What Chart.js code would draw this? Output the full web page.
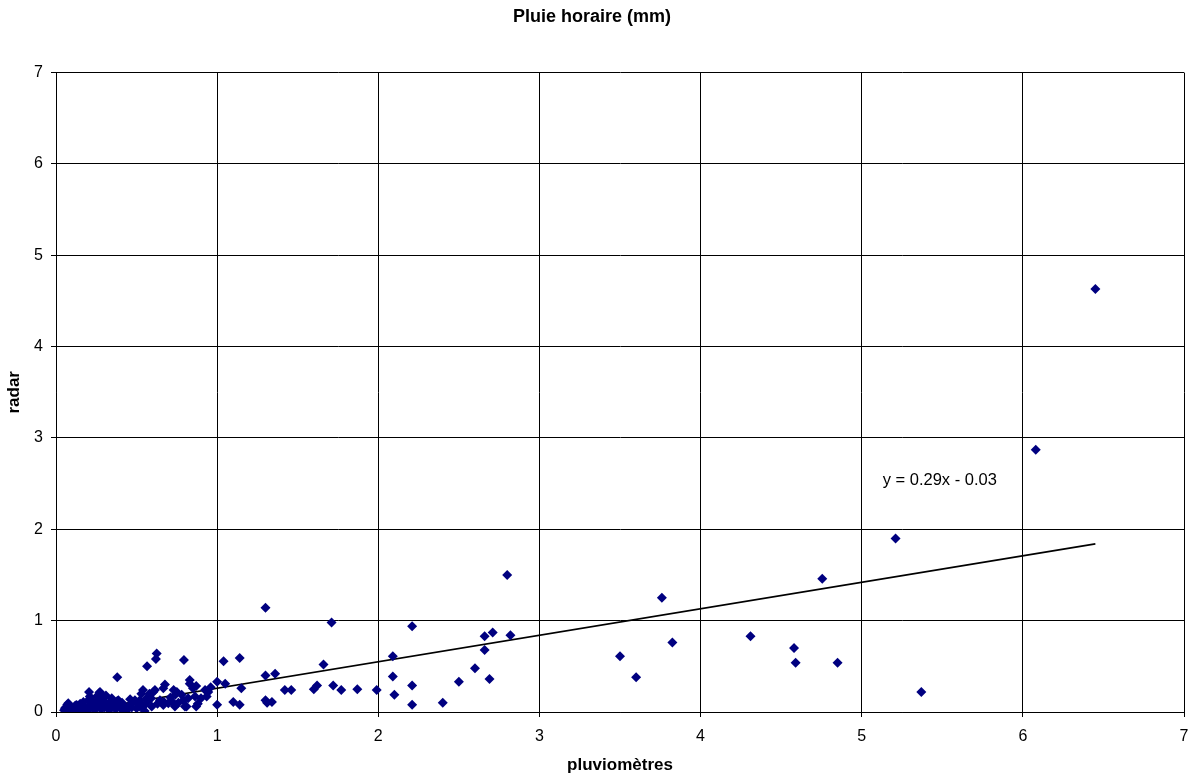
<!DOCTYPE html>
<html lang="fr">
<head>
<meta charset="utf-8">
<title>Pluie horaire (mm)</title>
<script src="https://cdn.jsdelivr.net/npm/chart.js@4.4.1/dist/chart.umd.min.js"></script>
<style>
  html, body { margin: 0; padding: 0; background: #fff; }
  #wrap { width: 1193px; height: 778px; }
</style>
</head>
<body>
<div id="wrap"><canvas id="pluieChart" width="1193" height="778"></canvas></div>
<script>
// cumul horaire : pluviomètres (x) contre radar (y), en mm
const mesures = [
  [6.45, 4.63], [6.08, 2.87], [5.21, 1.90], [5.37, 0.22],
  [4.755, 1.46], [4.85, 0.54], [4.59, 0.54], [4.58, 0.70], [4.31, 0.83],
  [3.825, 0.76], [3.76, 1.25], [3.60, 0.38], [3.50, 0.61],
  [2.80, 1.50], [2.82, 0.84], [2.71, 0.87], [2.66, 0.83], [2.66, 0.68],
  [2.69, 0.36], [2.60, 0.48], [2.50, 0.33], [2.40, 0.10],
  [2.21, 0.94], [2.21, 0.29], [2.21, 0.08], [2.10, 0.19], [2.09, 0.61], [2.09, 0.39],
  [1.99, 0.24], [1.87, 0.25], [1.77, 0.24], [1.72, 0.29], [1.71, 0.98], [1.66, 0.52],
  [1.62, 0.29], [1.60, 0.25], [1.46, 0.24], [1.42, 0.24], [1.36, 0.42], [1.34, 0.11],
  [1.30, 1.14], [1.30, 0.40], [1.30, 0.13], [1.31, 0.10],
  [1.15, 0.26], [1.14, 0.08], [1.14, 0.59], [1.10, 0.11], [1.04, 0.555], [1.05, 0.31],
  [1.00, 0.08], [1.00, 0.33],
  [0.945, 0.22], [0.935, 0.17], [0.925, 0.24], [0.87, 0.285], [0.87, 0.06], [0.863, 0.17],
  [0.85, 0.26], [0.83, 0.35], [0.83, 0.31], [0.82, 0.15], [0.81, 0.06], [0.79, 0.13],
  [0.80, 0.06], [0.794, 0.57], [0.75, 0.22], [0.74, 0.19], [0.738, 0.06], [0.728, 0.10],
  [0.697, 0.095], [0.676, 0.30], [0.666, 0.26], [0.666, 0.077], [0.67, 0.11], [0.645, 0.13],
  [0.625, 0.64], [0.62, 0.58], [0.614, 0.24], [0.604, 0.22], [0.594, 0.06],
  [0.565, 0.50], [0.563, 0.15], [0.54, 0.24], [0.53, 0.20], [0.54, 0.06], [0.55, 0.01],
  [0.52, 0.13], [0.52, 0.06], [0.50, 0.10], [0.49, 0.13], [0.50, 0.04],
  [0.46, 0.08], [0.47, 0.05], [0.46, 0.14], [0.44, 0.02], [0.424, 0.02],
  [0.42, 0.06], [0.41, 0.10], [0.40, 0.04], [0.397, 0.10], [0.387, 0.13], [0.38, 0.38],
  [0.38, 0.12], [0.377, 0.095], [0.39, 0.07], [0.37, 0.03], [0.36, 0.09],
  [0.35, 0.06], [0.346, 0.15], [0.346, 0.113], [0.335, 0.113], [0.33, 0.02], [0.32, 0.08],
  [0.31, 0.18], [0.30, 0.11], [0.30, 0.05], [0.294, 0.15], [0.283, 0.17], [0.28, 0.03],
  [0.273, 0.22], [0.269, 0.21], [0.27, 0.09], [0.26, 0.13], [0.253, 0.17], [0.25, 0.06],
  [0.24, 0.02], [0.23, 0.11], [0.22, 0.08], [0.21, 0.17], [0.21, 0.13], [0.21, 0.04],
  [0.205, 0.22], [0.20, 0.13], [0.19, 0.02], [0.18, 0.06], [0.17, 0.11], [0.16, 0.03],
  [0.15, 0.09], [0.14, 0.05], [0.13, 0.02], [0.128, 0.077], [0.12, 0.07], [0.11, 0.04],
  [0.10, 0.01], [0.09, 0.06], [0.087, 0.02], [0.08, 0.03], [0.076, 0.095], [0.07, 0.08],
  [0.06, 0.05], [0.056, 0.04], [0.05, 0.02],
  [0.57, 0.12], [0.59, 0.15], [0.63, 0.09], [0.71, 0.16], [0.76, 0.10], [0.78, 0.19],
  [0.88, 0.09], [0.90, 0.15], [0.96, 0.27], [0.73, 0.24], [0.58, 0.20], [0.55, 0.08]
];

// droite de régression affichée sur le graphique
const pente = 0.29;
const ordonnee = -0.03;
const xMinTendance = 0.05;
const xMaxTendance = 6.45;

const axeMin = 0;
const axeMax = 7;

const police = "'Liberation Sans', Arial, sans-serif";

const points = mesures.map(([x, y]) => ({ x, y }));
const tendance = [xMinTendance, xMaxTendance].map(x => ({ x, y: pente * x + ordonnee }));

function fmtCoef(v) {
  return v.toFixed(2);
}

const equationLabel = {
  id: "equationLabel",
  afterDatasetsDraw(chart) {
    const { ctx, scales } = chart;
    const signe = ordonnee < 0 ? "-" : "+";
    const txt = `y = ${fmtCoef(pente)}x ${signe} ${fmtCoef(Math.abs(ordonnee))}`;
    ctx.save();
    ctx.font = `16.5px ${police}`;
    ctx.fillStyle = "#000";
    ctx.textBaseline = "middle";
    ctx.fillText(txt, scales.x.getPixelForValue(5.13), scales.y.getPixelForValue(2.54));
    ctx.restore();
  }
};

function axisOptions(titre, tickPad, titlePad, largeur, hauteur) {
  return {
    type: "linear",
    min: axeMin,
    max: axeMax,
    ticks: { stepSize: 1, color: "#000", font: { family: police, size: 16 }, padding: tickPad },
    grid: { color: "#000", lineWidth: 1, tickLength: 5 },
    border: { color: "#000", width: 1 },
    title: {
      display: true,
      text: titre,
      color: "#000",
      font: { family: police, size: 17, weight: "bold" },
      padding: titlePad
    },
    afterFit(scale) {
      if (largeur) scale.width = largeur;
      if (hauteur) {
        scale.height = hauteur;
        // juste la demi-largeur du dernier libellé à droite
        scale.paddingRight = 6;
      }
    }
  };
}

new Chart(document.getElementById("pluieChart"), {
  data: {
    datasets: [
      {
        type: "scatter",
        label: "radar",
        data: points,
        pointStyle: "rectRot",
        pointRadius: 5,
        pointBackgroundColor: "#000080",
        pointBorderColor: "#000080",
        pointBorderWidth: 0
      },
      {
        type: "line",
        label: "tendance",
        data: tendance,
        borderColor: "#000",
        borderWidth: 1.6,
        pointRadius: 0,
        fill: false
      }
    ]
  },
  options: {
    responsive: false,
    animation: false,
    layout: { padding: { top: 0, right: 9, bottom: 0, left: 0 } },
    plugins: {
      legend: { display: false },
      tooltip: { enabled: false },
      title: {
        display: true,
        text: "Pluie horaire (mm)",
        color: "#000",
        font: { family: police, size: 18, weight: "bold" },
        padding: { top: 6, bottom: 45 }
      }
    },
    scales: {
      x: axisOptions("pluviomètres", 10, { top: 2, bottom: 2 }, null, 66),
      y: axisOptions("radar", 8, { top: 4, bottom: 4 }, 56, null)
    }
  },
  plugins: [equationLabel]
});
</script>
</body>
</html>
